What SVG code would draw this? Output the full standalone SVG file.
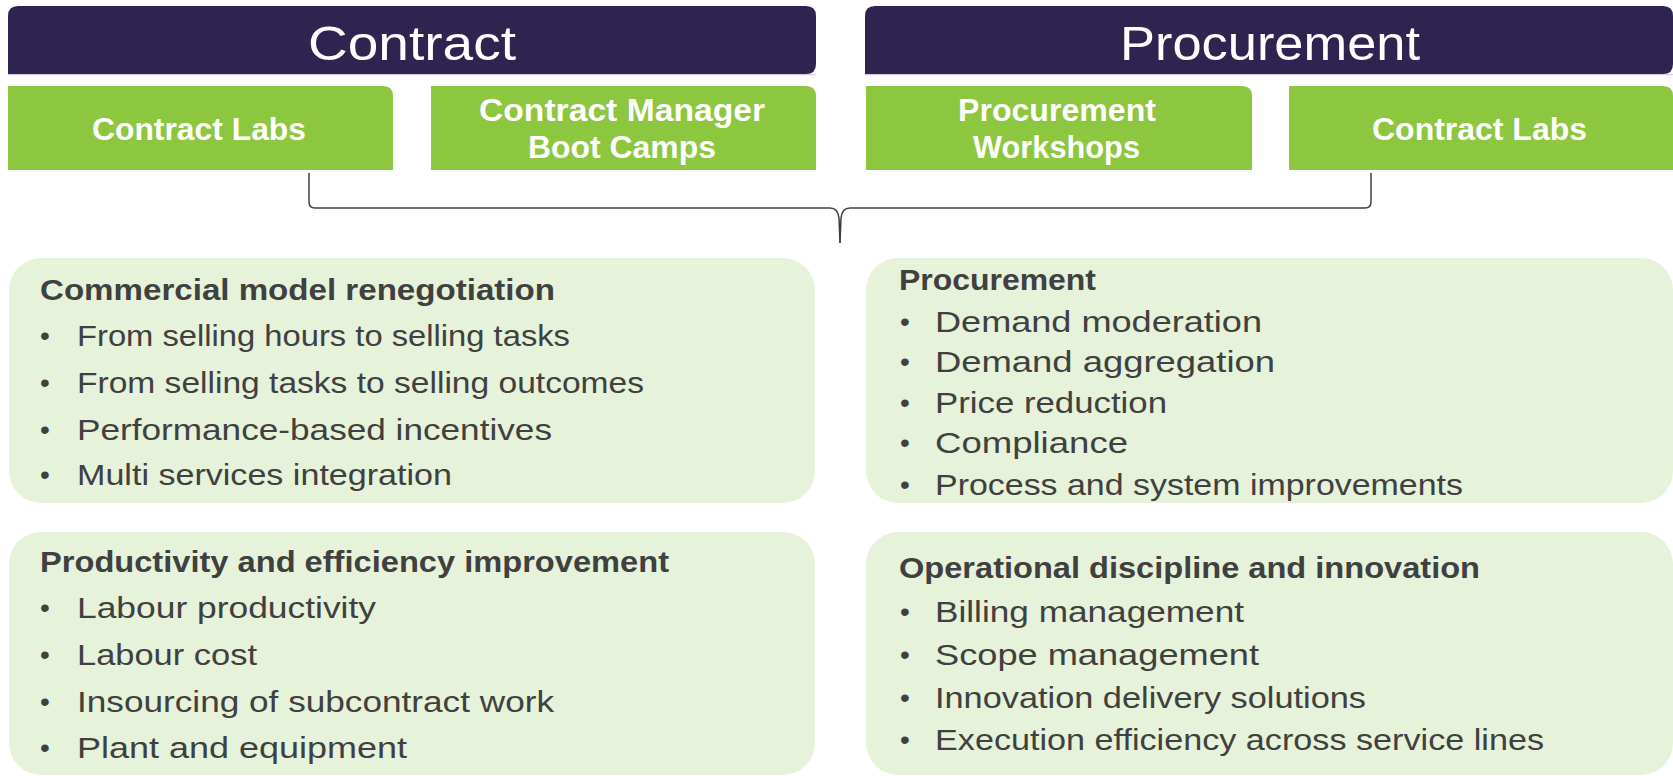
<svg xmlns="http://www.w3.org/2000/svg" width="1673" height="776" viewBox="0 0 1673 776">
  <style>
    .hdr { fill: #2F2350; }
    .hdr-edge { stroke: #D4D0E0; stroke-width: 1.2; }
    .tab { fill: #8DC63F; }
    .panel { fill: #E6F2D9; }
    .hdr-text { font-family: "Liberation Sans", Arial, sans-serif; font-size: 48px; fill: #FFFFFF; text-anchor: middle; }
    .tab-text { font-family: "Liberation Sans", Arial, sans-serif; font-size: 31px; font-weight: bold; fill: #FFFFFF; }
    .title { font-family: "Liberation Sans", Arial, sans-serif; font-size: 29px; font-weight: bold; fill: #404040; }
    .item { font-family: "Liberation Sans", Arial, sans-serif; font-size: 30px; fill: #404040; }
    .dot { font-family: "Liberation Sans", Arial, sans-serif; font-size: 28px; fill: #404040; }
    .brace { fill: none; stroke: #404040; stroke-width: 1.5; }
  </style>

  <!-- Column headers: rounded except bottom-left corner -->
  <g id="header-contract">
    <path class="hdr" d="M8,74 V16 Q8,6 18,6 H806 Q816,6 816,16 V64 Q816,74 806,74 Z"/>
    <line class="hdr-edge" x1="8" y1="74.6" x2="816" y2="74.6"/>
    <text class="hdr-text" x="412" y="60" textLength="208" lengthAdjust="spacingAndGlyphs">Contract</text>
  </g>
  <g id="header-procurement">
    <path class="hdr" d="M865,74 V16 Q865,6 875,6 H1663 Q1673,6 1673,16 V64 Q1673,74 1663,74 Z"/>
    <line class="hdr-edge" x1="865" y1="74.6" x2="1673" y2="74.6"/>
    <text class="hdr-text" x="1270" y="60" textLength="300" lengthAdjust="spacingAndGlyphs">Procurement</text>
  </g>

  <!-- Green programme tabs: only top-right corner rounded -->
  <g id="tab-contract-labs">
    <path class="tab" d="M8,86 H383 Q393,86 393,96 V170 H8 Z"/>
    <text class="tab-text" x="92" y="140" textLength="214" lengthAdjust="spacingAndGlyphs">Contract Labs</text>
  </g>
  <g id="tab-boot-camps">
    <path class="tab" d="M431,86 H806 Q816,86 816,96 V170 H431 Z"/>
    <text class="tab-text" x="479" y="121" textLength="286" lengthAdjust="spacingAndGlyphs">Contract Manager</text>
    <text class="tab-text" x="528" y="158" textLength="188" lengthAdjust="spacingAndGlyphs">Boot Camps</text>
  </g>
  <g id="tab-procurement-workshops">
    <path class="tab" d="M866,86 H1242 Q1252,86 1252,96 V170 H866 Z"/>
    <text class="tab-text" x="958" y="121" textLength="198" lengthAdjust="spacingAndGlyphs">Procurement</text>
    <text class="tab-text" x="973" y="158" textLength="167" lengthAdjust="spacingAndGlyphs">Workshops</text>
  </g>
  <g id="tab-contract-labs-2">
    <path class="tab" d="M1289,86 H1663 Q1673,86 1673,96 V170 H1289 Z"/>
    <text class="tab-text" x="1372" y="140" textLength="215" lengthAdjust="spacingAndGlyphs">Contract Labs</text>
  </g>

  <!-- Brace joining the tabs to the panels below -->
  <g id="connectors">
    <path class="brace" d="M309,173 V202 Q309,208 315,208 H830 Q838,208 839,218 L840,243"/>
    <path class="brace" d="M1371,173 V202 Q1371,208 1365,208 H850 Q842,208 841,218 L840,243"/>
  </g>

  <!-- Panel: commercial model -->
  <g id="panel-commercial">
    <rect class="panel" x="9" y="258" width="806" height="245" rx="32" ry="32"/>
    <text class="title" x="40" y="300" textLength="515" lengthAdjust="spacingAndGlyphs">Commercial model renegotiation</text>
    <text class="dot" x="40" y="345">•</text>
    <text class="item" x="77" y="346" textLength="493" lengthAdjust="spacingAndGlyphs">From selling hours to selling tasks</text>
    <text class="dot" x="40" y="392">•</text>
    <text class="item" x="77" y="393" textLength="567" lengthAdjust="spacingAndGlyphs">From selling tasks to selling outcomes</text>
    <text class="dot" x="40" y="439">•</text>
    <text class="item" x="77" y="440" textLength="475" lengthAdjust="spacingAndGlyphs">Performance-based incentives</text>
    <text class="dot" x="40" y="484">•</text>
    <text class="item" x="77" y="485" textLength="375" lengthAdjust="spacingAndGlyphs">Multi services integration</text>
  </g>

  <!-- Panel: procurement levers -->
  <g id="panel-procurement">
    <rect class="panel" x="866" y="258" width="807" height="245" rx="32" ry="32"/>
    <text class="title" x="899" y="290" textLength="197" lengthAdjust="spacingAndGlyphs">Procurement</text>
    <text class="dot" x="900" y="331">•</text>
    <text class="item" x="935" y="332" textLength="327" lengthAdjust="spacingAndGlyphs">Demand moderation</text>
    <text class="dot" x="900" y="371">•</text>
    <text class="item" x="935" y="372" textLength="340" lengthAdjust="spacingAndGlyphs">Demand aggregation</text>
    <text class="dot" x="900" y="412">•</text>
    <text class="item" x="935" y="413" textLength="232" lengthAdjust="spacingAndGlyphs">Price reduction</text>
    <text class="dot" x="900" y="452">•</text>
    <text class="item" x="935" y="453" textLength="193" lengthAdjust="spacingAndGlyphs">Compliance</text>
    <text class="dot" x="900" y="494">•</text>
    <text class="item" x="935" y="495" textLength="528" lengthAdjust="spacingAndGlyphs">Process and system improvements</text>
  </g>

  <!-- Panel: productivity -->
  <g id="panel-productivity">
    <rect class="panel" x="9" y="532" width="806" height="243" rx="32" ry="32"/>
    <text class="title" x="40" y="572" textLength="629" lengthAdjust="spacingAndGlyphs">Productivity and efficiency improvement</text>
    <text class="dot" x="40" y="617">•</text>
    <text class="item" x="77" y="618" textLength="299" lengthAdjust="spacingAndGlyphs">Labour productivity</text>
    <text class="dot" x="40" y="664">•</text>
    <text class="item" x="77" y="665" textLength="180" lengthAdjust="spacingAndGlyphs">Labour cost</text>
    <text class="dot" x="40" y="711">•</text>
    <text class="item" x="77" y="712" textLength="477" lengthAdjust="spacingAndGlyphs">Insourcing of subcontract work</text>
    <text class="dot" x="40" y="757">•</text>
    <text class="item" x="77" y="758" textLength="330" lengthAdjust="spacingAndGlyphs">Plant and equipment</text>
  </g>

  <!-- Panel: operational discipline -->
  <g id="panel-operational">
    <rect class="panel" x="866" y="532" width="807" height="243" rx="32" ry="32"/>
    <text class="title" x="899" y="578" textLength="581" lengthAdjust="spacingAndGlyphs">Operational discipline and innovation</text>
    <text class="dot" x="900" y="621">•</text>
    <text class="item" x="935" y="622" textLength="309" lengthAdjust="spacingAndGlyphs">Billing management</text>
    <text class="dot" x="900" y="664">•</text>
    <text class="item" x="935" y="665" textLength="324" lengthAdjust="spacingAndGlyphs">Scope management</text>
    <text class="dot" x="900" y="707">•</text>
    <text class="item" x="935" y="708" textLength="431" lengthAdjust="spacingAndGlyphs">Innovation delivery solutions</text>
    <text class="dot" x="900" y="749">•</text>
    <text class="item" x="935" y="750" textLength="609" lengthAdjust="spacingAndGlyphs">Execution efficiency across service lines</text>
  </g>
</svg>
